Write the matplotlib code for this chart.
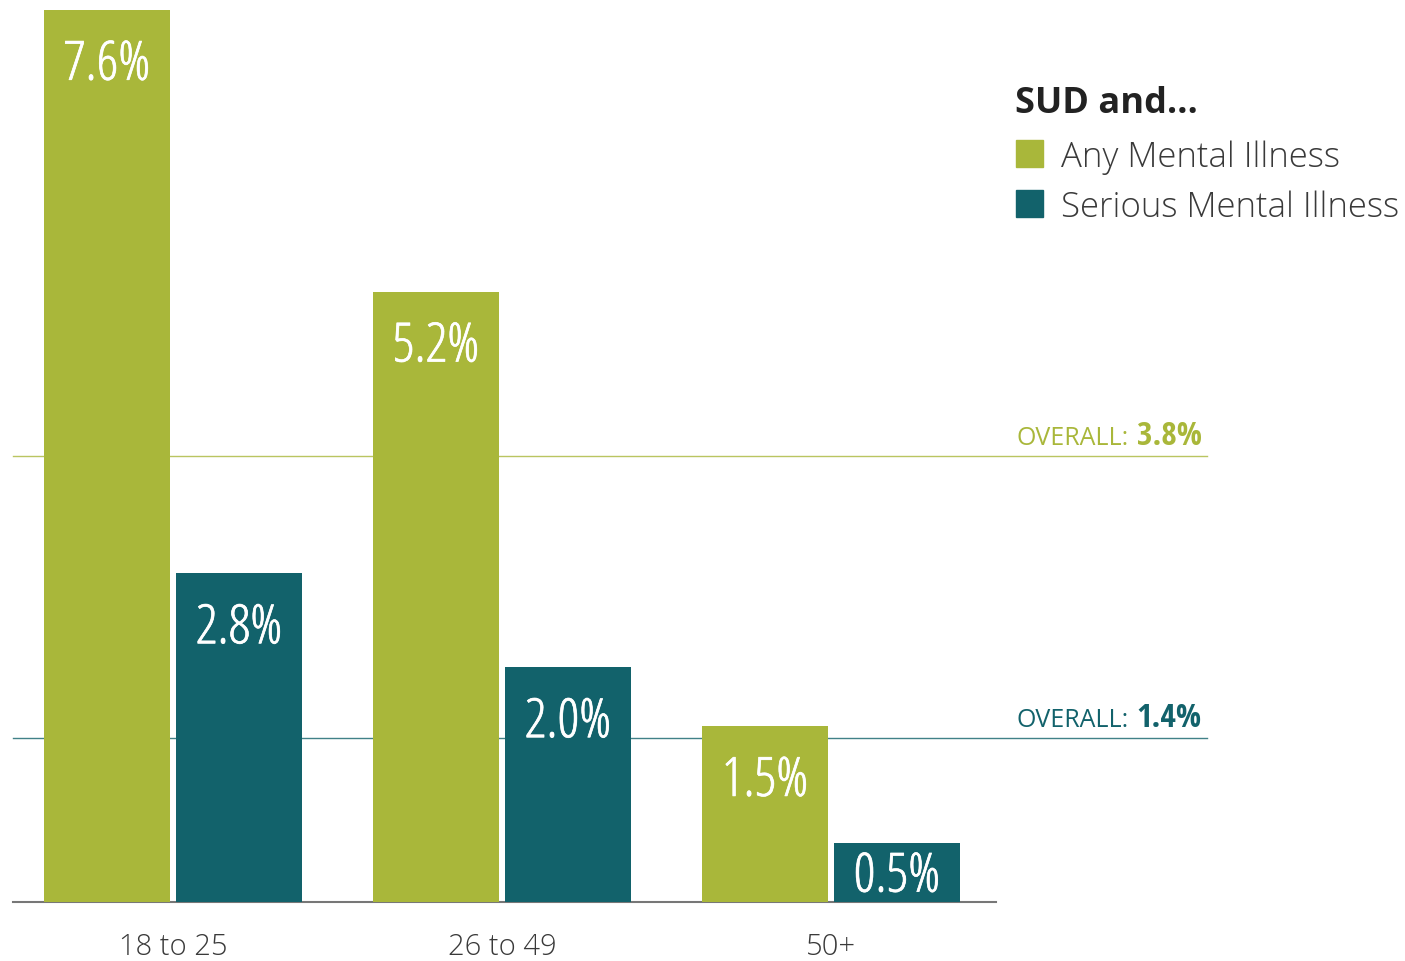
import matplotlib.pyplot as plt
import matplotlib.patheffects as pe
from matplotlib.patches import Rectangle
from matplotlib.font_manager import FontProperties, fontManager, weight_dict

groups = ['18 to 25', '26 to 49', '50+']
any_mi = [7.6, 5.2, 1.5]
serious_mi = [2.8, 2.0, 0.5]
overall_any = 3.8
overall_serious = 1.4

GREEN = '#a9b73a'
TEAL = '#12626b'
GREY = '#3a3a3a'
FONT = 'Open Sans'


def pick_condensed(weight):
    # look for an installed condensed/narrow sans face; None if there is none
    best = None
    for f in fontManager.ttflist:
        fn = f.fname.lower().split('/')[-1]
        if f.style != 'normal' or 'italic' in fn or 'mono' in fn or 'serif' in fn:
            continue
        if not (f.stretch in ('condensed', 'semi-condensed', 'extra-condensed', 'ultra-condensed')
                or 'condensed' in fn or 'narrow' in fn):
            continue
        wt = f.weight if isinstance(f.weight, int) else weight_dict.get(f.weight, 400)
        score = abs(wt - weight) / 100
        score += 0 if (fn.startswith('notosans-') or fn.startswith('opensans')) else 2
        score += 1 if ('semi' in fn or 'extra' in fn or 'ultra' in fn) else 0
        if best is None or score < best[0]:
            best = (score, f.fname)
    return FontProperties(fname=best[1]) if best else None


cond_reg = pick_condensed(400)
cond_bold = pick_condensed(700)

W, H = 1405, 961
fig = plt.figure(figsize=(W / 100, H / 100), dpi=100)
ax = fig.add_axes([0, 0, 1, 1])

# pixel geometry from the reference: group centre 173 + 329*i, baseline at y=902, 117.4 px per %
ppu = 117.4
ax.set_xlim(-173 / 329, (W - 173) / 329)
ax.set_ylim(-(H - 902) / ppu, 902 / ppu)
ax.axis('off')


def px(x, y):
    return x / W, 1 - y / H


w = 126 / 329
off = 66 / 329
xs = range(len(groups))
x_left = (13 - 173) / 329

# reference lines
ax.plot([x_left, (1207 - 173) / 329], [overall_any] * 2, color=GREEN, lw=1, alpha=0.8, zorder=1)
ax.plot([x_left, (1207 - 173) / 329], [overall_serious] * 2, color=TEAL, lw=1, alpha=0.8, zorder=1)
ax.plot([x_left, (996 - 173) / 329], [0, 0], color='#777777', lw=1.5, zorder=1)

ax.bar([x - off for x in xs], any_mi, width=w, color=GREEN, zorder=2)
ax.bar([x + off for x in xs], serious_mi, width=w, color=TEAL, zorder=2)

if cond_reg is not None:
    val_kw = dict(fontproperties=cond_reg, fontsize=39)
else:
    val_kw = dict(family=FONT, fontsize=28)
thick = [pe.withStroke(linewidth=0.5, foreground='white')]
for vals, sign in [(any_mi, -1), (serious_mi, 1)]:
    for x, v in zip(xs, vals):
        drop = min(70, v * ppu / 2 + 19) / ppu
        ax.text(x + sign * off, v - drop, f'{v:.1f}%', ha='center', va='baseline',
                color='white', zorder=3, path_effects=thick, **val_kw)

for x, g in zip(xs, groups):
    ax.text(x, -53 / ppu, g, ha='center', va='baseline', fontsize=21,
            color=GREY, family=FONT, fontweight='light')

# overall labels
if cond_bold is not None:
    num_kw = dict(fontproperties=cond_bold, fontsize=24)
else:
    num_kw = dict(family=FONT, fontweight='bold', fontsize=20)
nums = []
for val, col in [(overall_any, GREEN), (overall_serious, TEAL)]:
    t = ax.text((1202 - 173) / 329, val + 11 / ppu, f'{val:.1f}%', ha='right', va='baseline',
                color=col, **num_kw)
    nums.append((t, val, col))
fig.canvas.draw()
for t, val, col in nums:
    x0 = t.get_window_extent().x0 - 8
    xd = ax.transData.inverted().transform((x0, 0))[0]
    ax.text(xd, val + 11 / ppu, 'OVERALL:', ha='right', va='baseline',
            fontsize=18, color=col, family=FONT)

# legend
fig.text(*px(1015, 113), 'SUD and…', fontsize=26, fontweight='bold', color='#222222',
         family=FONT, ha='left', va='baseline')
for i, (lab, col) in enumerate([('Any Mental Illness', GREEN), ('Serious Mental Illness', TEAL)]):
    y = 140 + 50 * i
    x0, y0 = px(1016, y + 27)
    fig.patches.append(Rectangle((x0, y0), 27 / W, 27 / H, transform=fig.transFigure,
                                 color=col, figure=fig))
    fig.text(*px(1061, y + 27), lab, fontsize=25, color=GREY, family=FONT,
             fontweight='light', ha='left', va='baseline')

fig.savefig('out.png', dpi=100)
